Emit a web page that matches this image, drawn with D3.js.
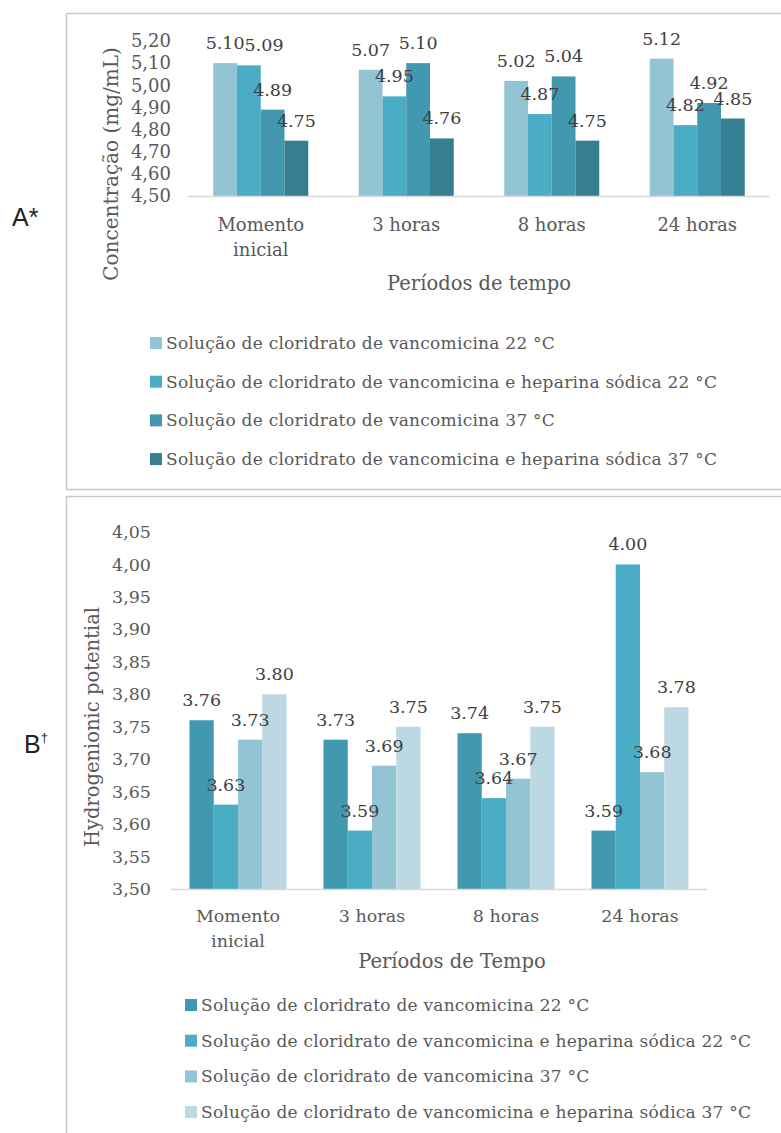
<!DOCTYPE html>
<html>
<head>
<meta charset="utf-8">
<script src="https://cdn.jsdelivr.net/npm/d3@7"></script>
<style>
  body { margin: 0; background: #fff; }
  svg { display: block; }
</style>
</head>
<body>
<svg id="fig" width="781" height="1133"></svg>
<script>
// categorias (eixo x)
var periodos = ["Momento inicial", "3 horas", "8 horas", "24 horas"];

var nomesSeries = [
    "Solução de cloridrato de vancomicina 22 °C",
    "Solução de cloridrato de vancomicina e heparina sódica 22 °C",
    "Solução de cloridrato de vancomicina 37 °C",
    "Solução de cloridrato de vancomicina e heparina sódica 37 °C"
];

// painel A - concentração (mg/mL)
var concVanco22 = [5.10, 5.07, 5.02, 5.12];
var concVancoHep22 = [5.09, 4.95, 4.87, 4.82];
var concVanco37 = [4.89, 5.10, 5.04, 4.92];
var concVancoHep37 = [4.75, 4.76, 4.75, 4.85];
var ticksA = [4.50, 4.60, 4.70, 4.80, 4.90, 5.00, 5.10, 5.20];

// painel B - potencial hidrogeniônico
var phVanco22 = [3.76, 3.73, 3.74, 3.59];
var phVancoHep22 = [3.63, 3.59, 3.64, 4.00];
var phVanco37 = [3.73, 3.69, 3.67, 3.68];
var phVancoHep37 = [3.80, 3.75, 3.75, 3.78];
var ticksB = [3.50, 3.55, 3.60, 3.65, 3.70, 3.75, 3.80, 3.85, 3.90, 3.95, 4.00, 4.05];

var coresA = ["#93c4d4", "#4bacc6", "#4298ae", "#367f92"];
var coresB = ["#4298ae", "#4bacc6", "#93c4d4", "#bbd8e3"];

var svg = d3.select("#fig");
var serif = "'DejaVu Serif', serif";

function virgula(v) {
    return d3.format(".2f")(v).replace(".", ",");
}

function wrap(textSel, maxW) {
    textSel.each(function() {
        var t = d3.select(this);
        var words = t.text().split(" ");
        if (this.getComputedTextLength() <= maxW || words.length < 2) return;
        t.text(null);
        var x = t.attr("x") || 0;
        var y = t.attr("y");
        var line = [], lines = [];
        var ts = t.append("tspan").attr("x", x);
        words.forEach(function(w) {
            line.push(w);
            ts.text(line.join(" "));
            if (ts.node().getComputedTextLength() > maxW && line.length > 1) {
                line.pop();
                lines.push(line.join(" "));
                line = [w];
                ts.text(w);
            }
        });
        lines.push(line.join(" "));
        t.text(null);
        lines.forEach(function(l, i) {
            t.append("tspan").attr("x", x).attr("dy", i == 0 ? 0 : 25).text(l);
        });
    });
}

function drawChart(cfg) {
    var series = cfg.series;
    var g = svg.append("g");

    // moldura
    g.append("rect")
        .attr("x", cfg.frame[0]).attr("y", cfg.frame[1])
        .attr("width", cfg.frame[2]).attr("height", cfg.frame[3])
        .attr("fill", "none").attr("stroke", "#c8c8c8").attr("stroke-width", 1.5);

    var x0 = d3.scaleBand().domain(periodos)
        .range([cfg.left, cfg.right])
        .paddingInner(cfg.pad).paddingOuter(cfg.pad / 2);
    var x1 = d3.scaleBand().domain(d3.range(series.length))
        .range([0, x0.bandwidth()]);
    var y = d3.scaleLinear().domain(cfg.domain).range([cfg.bottom, cfg.top]);

    // eixo y
    var yAxis = d3.axisLeft(y).tickValues(cfg.ticks).tickFormat(virgula).tickSize(0).tickPadding(0);
    var ya = g.append("g")
        .attr("transform", "translate(" + cfg.tickRight + ",0)")
        .call(yAxis);
    ya.select(".domain").remove();
    ya.selectAll("text")
        .attr("font-family", serif).attr("font-size", cfg.tickSize).attr("fill", "#595959");

    // barras
    var groups = g.selectAll("g.grupo")
        .data(periodos)
        .enter().append("g")
        .attr("class", "grupo")
        .attr("transform", function(d) { return "translate(" + x0(d) + ",0)"; });

    groups.selectAll("rect")
        .data(function(d, i) { return series.map(function(s, k) { return { k: k, v: s[i] }; }); })
        .enter().append("rect")
        .attr("x", function(d) { return x1(d.k); })
        .attr("y", function(d) { return y(d.v); })
        .attr("width", x1.bandwidth())
        .attr("height", function(d) { return y(cfg.domain[0]) - y(d.v); })
        .attr("fill", function(d) { return cfg.cores[d.k]; });

    // rotulos de dados
    groups.each(function(p, i) {
        var gg = d3.select(this);
        var prev = null;
        series.forEach(function(s, k) {
            var cx = x1(k) + x1.bandwidth() / 2;
            var t = gg.append("text")
                .attr("x", cx)
                .attr("y", y(s[i]) - cfg.labelGap)
                .attr("text-anchor", "middle")
                .attr("font-family", serif).attr("font-size", cfg.labelSize)
                .attr("fill", "#404040")
                .text(d3.format(".2f")(s[i]));
            var w = t.node().getComputedTextLength();
            // empurra o rotulo para a direita se sobrepor o anterior
            if (prev && Math.abs(prev.y - y(s[i])) < 14 && cx - w / 2 < prev.r) {
                cx = prev.r + w / 2;
                t.attr("x", cx);
            }
            prev = { y: y(s[i]), r: cx + w / 2 };
        });
    });

    // linha do eixo x
    g.append("line")
        .attr("x1", cfg.left).attr("x2", cfg.right)
        .attr("y1", cfg.bottom + 0.5).attr("y2", cfg.bottom + 0.5)
        .attr("stroke", "#d9d9d9").attr("stroke-width", 1.5);

    // rotulos de categoria
    g.selectAll("text.cat")
        .data(periodos)
        .enter().append("text")
        .attr("class", "cat")
        .attr("x", function(d) { return x0(d) + x0.bandwidth() / 2; })
        .attr("y", cfg.catY)
        .attr("text-anchor", "middle")
        .attr("font-family", serif).attr("font-size", cfg.tickSize).attr("fill", "#595959")
        .text(function(d) { return d; })
        .call(wrap, x0.step() * 0.85);

    // titulos dos eixos
    g.append("text")
        .attr("x", cfg.xTitle[0]).attr("y", cfg.xTitle[1])
        .attr("text-anchor", "middle")
        .attr("font-family", serif).attr("font-size", 19.5).attr("fill", "#595959")
        .text(cfg.xLabel);
    g.append("text")
        .attr("transform", "translate(" + cfg.yTitle[0] + "," + cfg.yTitle[1] + ") rotate(-90)")
        .attr("text-anchor", "middle")
        .attr("font-family", serif).attr("font-size", cfg.yTitleSize).attr("fill", "#595959")
        .text(cfg.yLabel);

    // legenda
    var leg = g.selectAll("g.leg")
        .data(nomesSeries)
        .enter().append("g")
        .attr("class", "leg")
        .attr("transform", function(d, i) { return "translate(" + cfg.legX + "," + (cfg.legY + i * cfg.legStep) + ")"; });
    leg.append("rect")
        .attr("x", 0).attr("y", -6).attr("width", 12).attr("height", 12)
        .attr("fill", function(d, i) { return cfg.cores[i]; });
    var lt = leg.append("text")
        .attr("x", 16).attr("y", 6)
        .attr("font-family", serif).attr("font-size", 17).attr("fill", "#595959")
        .text(function(d) { return d; });
    var maxW = d3.max(lt.nodes(), function(n) { return n.getComputedTextLength(); });
    var f = cfg.legWidth / maxW;
    lt.each(function() {
        d3.select(this)
            .attr("textLength", this.getComputedTextLength() * f)
            .attr("lengthAdjust", "spacing");
    });
}

drawChart({
    series: [concVanco22, concVancoHep22, concVanco37, concVancoHep37],
    cores: coresA,
    frame: [66.5, 13.5, 800, 476],
    left: 188, right: 770, pad: 0.347,
    top: 41, bottom: 196, domain: [4.50, 5.20], ticks: ticksA,
    tickRight: 171, tickSize: 18, labelSize: 17.5, labelGap: 14,
    catY: 231, xTitle: [479, 290], xLabel: "Períodos de tempo",
    yTitle: [118, 164], yTitleSize: 20, yLabel: "Concentração (mg/mL)",
    legX: 150, legY: 343, legStep: 38.7, legWidth: 551
});

drawChart({
    series: [phVanco22, phVancoHep22, phVanco37, phVancoHep37],
    cores: coresB,
    frame: [66.5, 496.5, 800, 700],
    left: 171, right: 707, pad: 0.276,
    top: 532, bottom: 889, domain: [3.50, 4.05], ticks: ticksB,
    tickRight: 151, tickSize: 17.5, labelSize: 17.5, labelGap: 14,
    catY: 922, xTitle: [452, 968], xLabel: "Períodos de Tempo",
    yTitle: [99, 727], yTitleSize: 19.5, yLabel: "Hydrogenionic potential",
    legX: 185, legY: 1005, legStep: 35.7, legWidth: 550
});

// letras dos paineis
svg.append("text").attr("x", 12).attr("y", 226)
    .attr("font-family", "'Liberation Sans', Arial, sans-serif").attr("font-size", 25).attr("fill", "#222")
    .text("A*");
var b = svg.append("text").attr("x", 24).attr("y", 753)
    .attr("font-family", "'Liberation Sans', Arial, sans-serif").attr("font-size", 25).attr("fill", "#222");
b.append("tspan").text("B");
b.append("tspan").attr("font-size", 13).attr("dy", -11).text("†");
</script>
</body>
</html>
